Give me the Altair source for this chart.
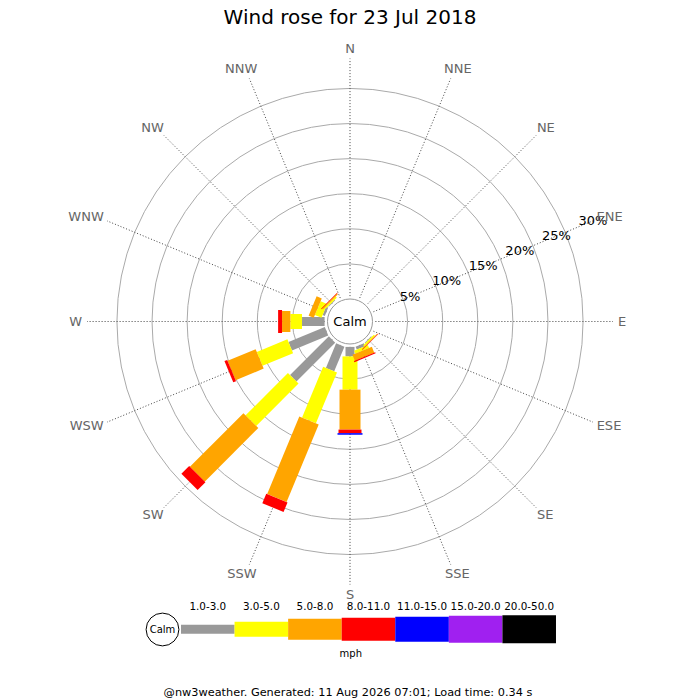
import altair as alt
import pandas as pd

# ---------------- data ----------------
directions = ["N", "NNE", "NE", "ENE", "E", "ESE", "SE", "SSE",
              "S", "SSW", "SW", "WSW", "W", "WNW", "NW", "NNW"]
speed_classes = ["1.0-3.0", "3.0-5.0", "5.0-8.0", "8.0-11.0",
                 "11.0-15.0", "15.0-20.0", "20.0-50.0"]
# percentage of observations per direction, one list per speed class (mph)
pct_1_3   = [0, 0, 0, 0, 0, 0, 0.10, 0.40, 1.20, 3.37, 6.93, 4.96, 2.85, 0.30, 0.10, 0]
pct_3_5   = [0, 0, 0, 0, 0, 0, 0.20, 0.40, 4.20, 6.95, 7.56, 4.18, 1.47, 0.90, 0.20, 0]
pct_5_8   = [0, 0, 0, 0, 0, 0, 0.10, 0.80, 5.04, 10.60, 9.57, 3.83, 1.05, 0.70, 0.15, 0]
pct_8_11  = [0, 0, 0, 0, 0, 0, 0.05, 0.15, 0.45, 1.30, 1.39, 0.38, 0.50, 0, 0.05, 0]
pct_11_15 = [0, 0, 0, 0, 0, 0, 0, 0, 0.20, 0, 0, 0, 0, 0, 0, 0]
pct_15_20 = [0, 0, 0, 0, 0, 0, 0, 0, 0, 0, 0, 0, 0, 0, 0, 0]
pct_20_50 = [0, 0, 0, 0, 0, 0, 0, 0, 0, 0, 0, 0, 0, 0, 0, 0]
ring_pcts = [5, 10, 15, 20, 25, 30]
ring_labels = ["5%", "10%", "15%", "20%", "25%", "30%"]
title_text = "Wind rose for 23 Jul 2018"
calm_text = "Calm"
unit_text = "mph"
footer_text = "@nw3weather. Generated: 11 Aug 2026 07:01; Load time: 0.34 s"

# ---------------- style / layout ----------------
FONT = "DejaVu Sans"
class_colors = ["#999999", "#ffff00", "#ffa500", "#ff0000", "#0000ff", "#a020f0", "#000000"]
class_widths = [9, 15, 21, 23, 25, 27, 28]
K = 7.92                 # pixels per percent
CX, CY = 350.0, 321.5    # rose centre on the page
C0 = 25.4 / K            # calm circle radius in percent units
RMAX = C0 + ring_pcts[-1]
LEFT, TOP = 8, 8
W, H = 684, 684


def ux(px):
    return (px - CX) / K


def uy(py):
    return (CY - py) / K


xs = alt.Scale(domain=[ux(LEFT), ux(LEFT + W)], nice=False, zero=False)
ys = alt.Scale(domain=[uy(TOP + H), uy(TOP)], nice=False, zero=False)


def X(f):
    return alt.X(f, type="quantitative", scale=xs, axis=None)


def Y(f):
    return alt.Y(f, type="quantitative", scale=ys, axis=None)


color_scale = alt.Scale(domain=speed_classes, range=class_colors)
size_scale = alt.Scale(type="ordinal", domain=speed_classes, range=class_widths)

series = [pct_1_3, pct_3_5, pct_5_8, pct_8_11, pct_11_15, pct_15_20, pct_20_50]
rose_df = pd.DataFrame([
    {"dir": d, "dir_i": di, "cls": c, "cls_i": ci, "pct": series[ci][di]}
    for ci, c in enumerate(speed_classes) for di, d in enumerate(directions)
])
dir_df = pd.DataFrame({"label": directions, "dir_i": list(range(len(directions)))})
ring_df = pd.DataFrame({"p": ring_pcts, "label": ring_labels})
leg_df = pd.DataFrame({"cls": speed_classes, "cls_i": list(range(len(speed_classes)))})

# grid rings
rings = alt.Chart(ring_df).transform_calculate(
    r=f"{C0} + datum.p", zx="0", zy="0"
).transform_calculate(
    sz=f"PI * pow(datum.r * {K}, 2)"
).mark_point(shape="circle", filled=False, stroke="#aaaaaa", strokeWidth=1, opacity=1).encode(
    x=X("zx"), y=Y("zy"), size=alt.Size("sz:Q", scale=None)
)

# direction spokes
spokes = alt.Chart(dir_df).transform_calculate(
    a="datum.dir_i * PI / 8"
).transform_calculate(
    sx=f"{C0} * sin(datum.a)", sy=f"{C0} * cos(datum.a)",
    ex=f"{RMAX} * sin(datum.a)", ey=f"{RMAX} * cos(datum.a)"
).mark_rule(stroke="#444444", strokeWidth=1, strokeDash=[1, 2]).encode(
    x=X("sx"), y=Y("sy"), x2="ex:Q", y2="ey:Q"
)

# direction labels
dir_labels = alt.Chart(dir_df).transform_calculate(
    a="datum.dir_i * PI / 8",
    w=("13 * (0.748 * (length(split(datum.label, 'N')) - 1)"
       " + 0.989 * (length(split(datum.label, 'W')) - 1)"
       " + 0.632 * (length(split(datum.label, 'E')) - 1)"
       " + 0.635 * (length(split(datum.label, 'S')) - 1))")
).transform_calculate(
    lx=f"{RMAX} * sin(datum.a) + sin(datum.a) * (datum.w / 2 + 5) / {K}",
    ly=f"{RMAX} * cos(datum.a) + cos(datum.a) * 10 / {K}"
).mark_text(font=FONT, fontSize=13, color="#666666", align="center", baseline="middle").encode(
    x=X("lx"), y=Y("ly"), text="label:N"
)

# stacked bars
bars = alt.Chart(rose_df).transform_window(
    cum="sum(pct)", groupby=["dir_i"], sort=[alt.SortField("cls_i")], frame=[None, 0]
).transform_filter("datum.pct > 0").transform_calculate(
    a="datum.dir_i * PI / 8",
    r0=f"{C0} + datum.cum - datum.pct",
    r1=f"{C0} + datum.cum"
).transform_calculate(
    bx="datum.r0 * sin(datum.a)", by="datum.r0 * cos(datum.a)",
    bx2="datum.r1 * sin(datum.a)", by2="datum.r1 * cos(datum.a)"
).mark_rule(strokeCap="butt", opacity=1).encode(
    x=X("bx"), y=Y("by"), x2="bx2:Q", y2="by2:Q",
    color=alt.Color("cls:N", scale=color_scale, legend=None),
    size=alt.Size("cls:O", scale=size_scale, legend=None)
)

# calm circle
calm_df = pd.DataFrame({"label": [calm_text]})
calm_circle = alt.Chart(calm_df).transform_calculate(
    zx="0", zy="0", sz=f"PI * pow({C0 * K}, 2)"
).mark_point(shape="circle", filled=True, fill="white", stroke="#999999",
             strokeWidth=1, opacity=1).encode(
    x=X("zx"), y=Y("zy"), size=alt.Size("sz:Q", scale=None)
)
calm_label = alt.Chart(calm_df).transform_calculate(zx="0", zy="0").mark_text(
    font=FONT, fontSize=13, color="black", align="center", baseline="middle"
).encode(x=X("zx"), y=Y("zy"), text="label:N")

# percentage labels along ENE spoke
ENE = 3 * 3.141592653589793 / 8
pct_labels = alt.Chart(ring_df).transform_calculate(
    r=f"{C0} + datum.p"
).transform_calculate(
    px=f"datum.r * sin({ENE})", py=f"datum.r * cos({ENE})"
).mark_text(font=FONT, fontSize=13, color="black", align="center", baseline="middle").encode(
    x=X("px"), y=Y("py"), text="label:N"
)

# legend
LEG_X0 = ux(181.0)
LEG_STEP = 53.57 / K
LEG_Y = uy(629.3)
LEG_LBL_Y = uy(606.8)
legend_bars = alt.Chart(leg_df).transform_calculate(
    lx0=f"{LEG_X0} + datum.cls_i * {LEG_STEP}",
    lx1=f"{LEG_X0} + (datum.cls_i + 1) * {LEG_STEP}",
    ly=f"{LEG_Y}"
).mark_rule(strokeCap="butt", opacity=1).encode(
    x=X("lx0"), y=Y("ly"), x2="lx1:Q",
    color=alt.Color("cls:N", scale=color_scale, legend=None),
    size=alt.Size("cls:O", scale=size_scale, legend=None)
)
legend_labels = alt.Chart(leg_df).transform_calculate(
    lxc=f"{LEG_X0} + (datum.cls_i + 0.5) * {LEG_STEP}",
    ly=f"{LEG_LBL_Y}"
).mark_text(font=FONT, fontSize=10.4, color="black", align="center", baseline="middle").encode(
    x=X("lxc"), y=Y("ly"), text="cls:N"
)
legend_calm_circle = alt.Chart(calm_df).transform_calculate(
    cx=f"{ux(162.5)}", cy=f"{uy(629.5)}", sz=f"PI * pow(18.5, 2)"
).mark_point(shape="circle", filled=True, fill="white", stroke="black",
             strokeWidth=1, opacity=1).encode(
    x=X("cx"), y=Y("cy"), size=alt.Size("sz:Q", scale=None)
)
legend_calm_text = alt.Chart(calm_df).transform_calculate(
    cx=f"{ux(162.5)}", cy=f"{uy(629.5)}"
).mark_text(font=FONT, fontSize=10, color="black", align="center", baseline="middle").encode(
    x=X("cx"), y=Y("cy"), text="label:N"
)
unit_df = pd.DataFrame({"label": [unit_text]})
unit_label = alt.Chart(unit_df).transform_calculate(
    cx=f"{ux(350.8)}", cy=f"{uy(654)}"
).mark_text(font=FONT, fontSize=10, color="black", align="center", baseline="middle").encode(
    x=X("cx"), y=Y("cy"), text="label:N"
)
footer_df = pd.DataFrame({"label": [footer_text]})
footer = alt.Chart(footer_df).transform_calculate(
    cx=f"{ux(348)}", cy=f"{uy(692.5)}"
).mark_text(font=FONT, fontSize=11.3, color="black", align="center", baseline="middle").encode(
    x=X("cx"), y=Y("cy"), text="label:N"
)

# title
title_df = pd.DataFrame({"label": [title_text]})
title = alt.Chart(title_df).transform_calculate(
    cx=f"{ux(350)}", cy=f"{uy(23.5)}"
).mark_text(font=FONT, fontSize=20, color="black", align="center", baseline="alphabetic").encode(
    x=X("cx"), y=Y("cy"), text="label:N"
)

chart = alt.layer(
    rings, spokes, bars, calm_circle, calm_label, pct_labels, dir_labels,
    legend_bars, legend_calm_circle, legend_calm_text, legend_labels, unit_label, footer, title
).properties(
    width=W, height=H,
    autosize=alt.AutoSizeParams(type="none"),
    padding={"left": 0, "top": 0, "right": 0, "bottom": 8},
).configure(font=FONT).configure_view(strokeWidth=0)

chart.save("out.html", embed_options={"renderer": "svg", "actions": False})
